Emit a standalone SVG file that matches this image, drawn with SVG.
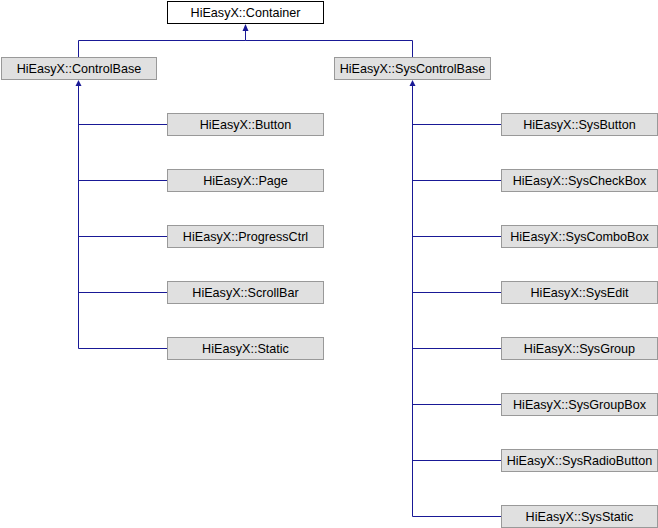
<svg xmlns="http://www.w3.org/2000/svg" width="658" height="528" viewBox="0 0 658 528">
<defs>
<style>
.n rect{fill:#e0e0e0;stroke:#999999;stroke-width:1}
.r rect{fill:#ffffff;stroke:#000000;stroke-width:1}
text{font-family:"Liberation Sans",Arial,sans-serif;font-size:12.6px;fill:#000;text-anchor:middle}
.e path{fill:none;stroke:#191996;stroke-width:1}
.a{fill:#191996;stroke:none}
</style>
</defs>
<rect width="658" height="528" fill="#ffffff"/>
<g class="e">
<path d="M245.5 31V40.5H78.5V57M245.5 40.5H412.5V57"/>
<path d="M78.5 85V348.5H167M78.5 124.5H167M78.5 180.5H167M78.5 236.5H167M78.5 292.5H167"/>
<path d="M412.5 85V516.5H501M412.5 124.5H501M412.5 180.5H501M412.5 236.5H501M412.5 292.5H501M412.5 348.5H501M412.5 404.5H501M412.5 460.5H501"/>
<polygon class="a" points="245.5,24 248.5,31 242.5,31"/>
<polygon class="a" points="78.5,80 81.5,86 75.5,86"/>
<polygon class="a" points="412.5,80 415.5,86 409.5,86"/>
</g>
<g id="Container" class="r"><rect x="167.5" y="1.5" width="156" height="22"/><text x="245.5" y="17">HiEasyX::Container</text></g>
<g id="ControlBase" class="n"><rect x="1.5" y="57.5" width="155" height="22"/><text x="79" y="73">HiEasyX::ControlBase</text></g>
<g id="SysControlBase" class="n"><rect x="334.5" y="57.5" width="156" height="22"/><text x="412.5" y="73">HiEasyX::SysControlBase</text></g>
<g id="Button" class="n"><rect x="167.5" y="113.5" width="156" height="22"/><text x="245.5" y="129">HiEasyX::Button</text></g>
<g id="Page" class="n"><rect x="167.5" y="169.5" width="156" height="22"/><text x="245.5" y="185">HiEasyX::Page</text></g>
<g id="ProgressCtrl" class="n"><rect x="167.5" y="225.5" width="156" height="22"/><text x="245.5" y="241">HiEasyX::ProgressCtrl</text></g>
<g id="ScrollBar" class="n"><rect x="167.5" y="281.5" width="156" height="22"/><text x="245.5" y="297">HiEasyX::ScrollBar</text></g>
<g id="Static" class="n"><rect x="167.5" y="337.5" width="156" height="22"/><text x="245.5" y="353">HiEasyX::Static</text></g>
<g id="SysButton" class="n"><rect x="501.5" y="113.5" width="156" height="22"/><text x="579.5" y="129">HiEasyX::SysButton</text></g>
<g id="SysCheckBox" class="n"><rect x="501.5" y="169.5" width="156" height="22"/><text x="579.5" y="185">HiEasyX::SysCheckBox</text></g>
<g id="SysComboBox" class="n"><rect x="501.5" y="225.5" width="156" height="22"/><text x="579.5" y="241">HiEasyX::SysComboBox</text></g>
<g id="SysEdit" class="n"><rect x="501.5" y="281.5" width="156" height="22"/><text x="579.5" y="297">HiEasyX::SysEdit</text></g>
<g id="SysGroup" class="n"><rect x="501.5" y="337.5" width="156" height="22"/><text x="579.5" y="353">HiEasyX::SysGroup</text></g>
<g id="SysGroupBox" class="n"><rect x="501.5" y="393.5" width="156" height="22"/><text x="579.5" y="409">HiEasyX::SysGroupBox</text></g>
<g id="SysRadioButton" class="n"><rect x="501.5" y="449.5" width="156" height="22"/><text x="579.5" y="465">HiEasyX::SysRadioButton</text></g>
<g id="SysStatic" class="n"><rect x="501.5" y="505.5" width="156" height="22"/><text x="579.5" y="521">HiEasyX::SysStatic</text></g>
</svg>
